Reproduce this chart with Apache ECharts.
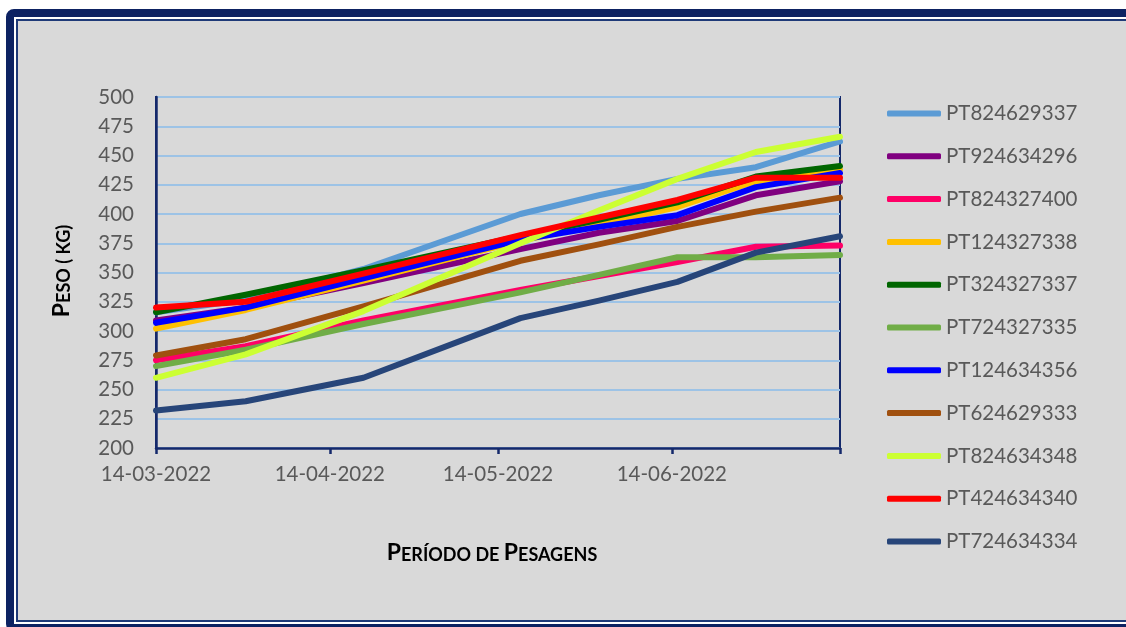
<!DOCTYPE html>
<html>
<head>
<meta charset="utf-8">
<script src="https://cdn.jsdelivr.net/npm/echarts@6/dist/echarts.min.js"></script>
<style>
  html, body { margin: 0; padding: 0; background: #ffffff; overflow: hidden; }
  .frame {
    position: absolute;
    left: 6px;
    top: 9px;
    width: 1140px;
    height: 623px;
    box-sizing: border-box;
    border: 8px solid #0d2262;
    border-radius: 8px;
    background: #d9d9d9;
    box-shadow: inset 0 0 0 2px #ffffff, inset 0 0 0 4px #1f3a78;
  }
  #chart { position: absolute; left: 0; top: 0; width: 1126px; height: 627px; }
</style>
</head>
<body>
<div class="frame"></div>
<div id="chart"></div>
<script>
// weighing dates (dd-mm-yyyy)
const dates = ['14-03-2022', '30-03-2022', '20-04-2022', '18-05-2022', '01-06-2022', '15-06-2022', '29-06-2022', '14-07-2022']
const tickDates = ['14-03-2022', '14-04-2022', '14-05-2022', '14-06-2022', '14-07-2022']
const labelDates = ['14-03-2022', '14-04-2022', '14-05-2022', '14-06-2022']

const animals = ['PT824629337', 'PT924634296', 'PT824327400', 'PT124327338', 'PT324327337', 'PT724327335',
  'PT124634356', 'PT624629333', 'PT824634348', 'PT424634340', 'PT724634334']
const colors = ['#5b9bd5', '#800080', '#ff0066', '#ffc000', '#006600', '#70ad47',
  '#0000ff', '#a0500f', '#ccff33', '#ff0000', '#274579']

// peso (kg) per animal at each weighing date
const pt824629337 = [316, 327, 353, 400, 416, 430, 440, 462]
const pt924634296 = [309, 320, 341, 370, 384, 394, 416, 428]
const pt824327400 = [275, 287, 309, 335, 347, 359, 372, 373]
const pt124327338 = [302, 318, 343, 377, 391, 406, 428, 438]
const pt324327337 = [316, 331, 352, 381, 395, 410, 432, 441]
const pt724327335 = [270, 284, 306, 333, 348, 363, 363, 365]
const pt124634356 = [307, 320, 345, 378, 389, 399, 423, 435]
const pt624629333 = [279, 293, 321, 360, 374, 389, 402, 414]
const pt824634348 = [260, 280, 317, 375, 403, 430, 453, 466]
const pt424634340 = [320, 325, 349, 382, 397, 412, 431, 431]
const pt724634334 = [232, 240, 260, 311, 326, 342, 367, 381]

const weights = [pt824629337, pt924634296, pt824327400, pt124327338, pt324327337, pt724327335,
  pt124634356, pt624629333, pt824634348, pt424634340, pt724634334]

function toUtc(s) {
  const [d, m, y] = s.split('-').map(Number)
  return Date.UTC(y, m - 1, d)
}
const DAY = 86400000
const start = toUtc(dates[0])
const toDay = (s) => Math.round((toUtc(s) - start) / DAY)
const pad = (n) => (n < 10 ? '0' : '') + n
function fmtDay(v) {
  const dt = new Date(start + v * DAY)
  return pad(dt.getUTCDate()) + '-' + pad(dt.getUTCMonth() + 1) + '-' + dt.getUTCFullYear()
}

const font = 'Lato, "Open Sans", sans-serif'
const axisNavy = '#14296b'
// small caps: big letters in "a", the rest in "b"
const capsRich = {
  a: { fontFamily: font, fontWeight: 'bold', fontSize: 23, verticalAlign: 'bottom', fill: '#000' },
  b: { fontFamily: font, fontWeight: 'bold', fontSize: 18, verticalAlign: 'bottom', fill: '#000' },
}

const chart = echarts.init(document.getElementById('chart'))

chart.setOption({
  animation: false,
  backgroundColor: 'transparent',
  textStyle: { fontFamily: font },
  grid: {
    left: 156, top: 97, right: 286, bottom: 179,
    show: true, borderColor: axisNavy, borderWidth: 2, backgroundColor: 'transparent',
  },
  legend: {
    orient: 'vertical',
    left: 882,
    top: 98,
    icon: 'roundRect',
    itemWidth: 54,
    itemHeight: 6,
    itemGap: 21.8,
    textStyle: { fontFamily: font, fontSize: 20.5, color: '#595959' },
    data: animals,
  },
  xAxis: {
    type: 'value',
    min: 0,
    max: toDay(dates[dates.length - 1]),
    axisLine: { lineStyle: { color: axisNavy, width: 2.5 } },
    axisTick: {
      show: true, length: 6, inside: false,
      lineStyle: { color: axisNavy, width: 2.5 },
      customValues: tickDates.map(toDay),
    },
    axisLabel: {
      customValues: labelDates.map(toDay),
      formatter: (v) => fmtDay(v),
      color: '#595959', fontSize: 20.5, fontFamily: font, margin: 16,
    },
    splitLine: { show: false },
  },
  yAxis: {
    type: 'value',
    min: 200,
    max: 500,
    interval: 25,
    axisLine: { show: true, lineStyle: { color: axisNavy, width: 2.5 } },
    axisTick: { show: false },
    axisLabel: { color: '#595959', fontSize: 20.5, fontFamily: font, margin: 22 },
    splitLine: { lineStyle: { color: '#9dc3e6', width: 2 } },
  },
  graphic: [
    {
      type: 'text',
      x: 62, y: 271,
      rotation: Math.PI / 2,
      style: {
        text: '{a|P}{b|ESO ( KG)}',
        align: 'center', verticalAlign: 'middle',
        fill: '#000',
        rich: capsRich,
      },
    },
    {
      type: 'text',
      x: 492, y: 553,
      style: {
        text: '{a|P}{b|ERÍODO DE }{a|P}{b|ESAGENS}',
        align: 'center', verticalAlign: 'middle',
        fill: '#000',
        rich: capsRich,
      },
    },
  ],
  series: animals.map((name, i) => ({
    name,
    type: 'line',
    symbol: 'none',
    showSymbol: false,
    lineStyle: { color: colors[i], width: 6, join: 'round', cap: 'round' },
    itemStyle: { color: colors[i] },
    data: dates.map((d, j) => [toDay(d), weights[i][j]]),
  })),
})
</script>
</body>
</html>
